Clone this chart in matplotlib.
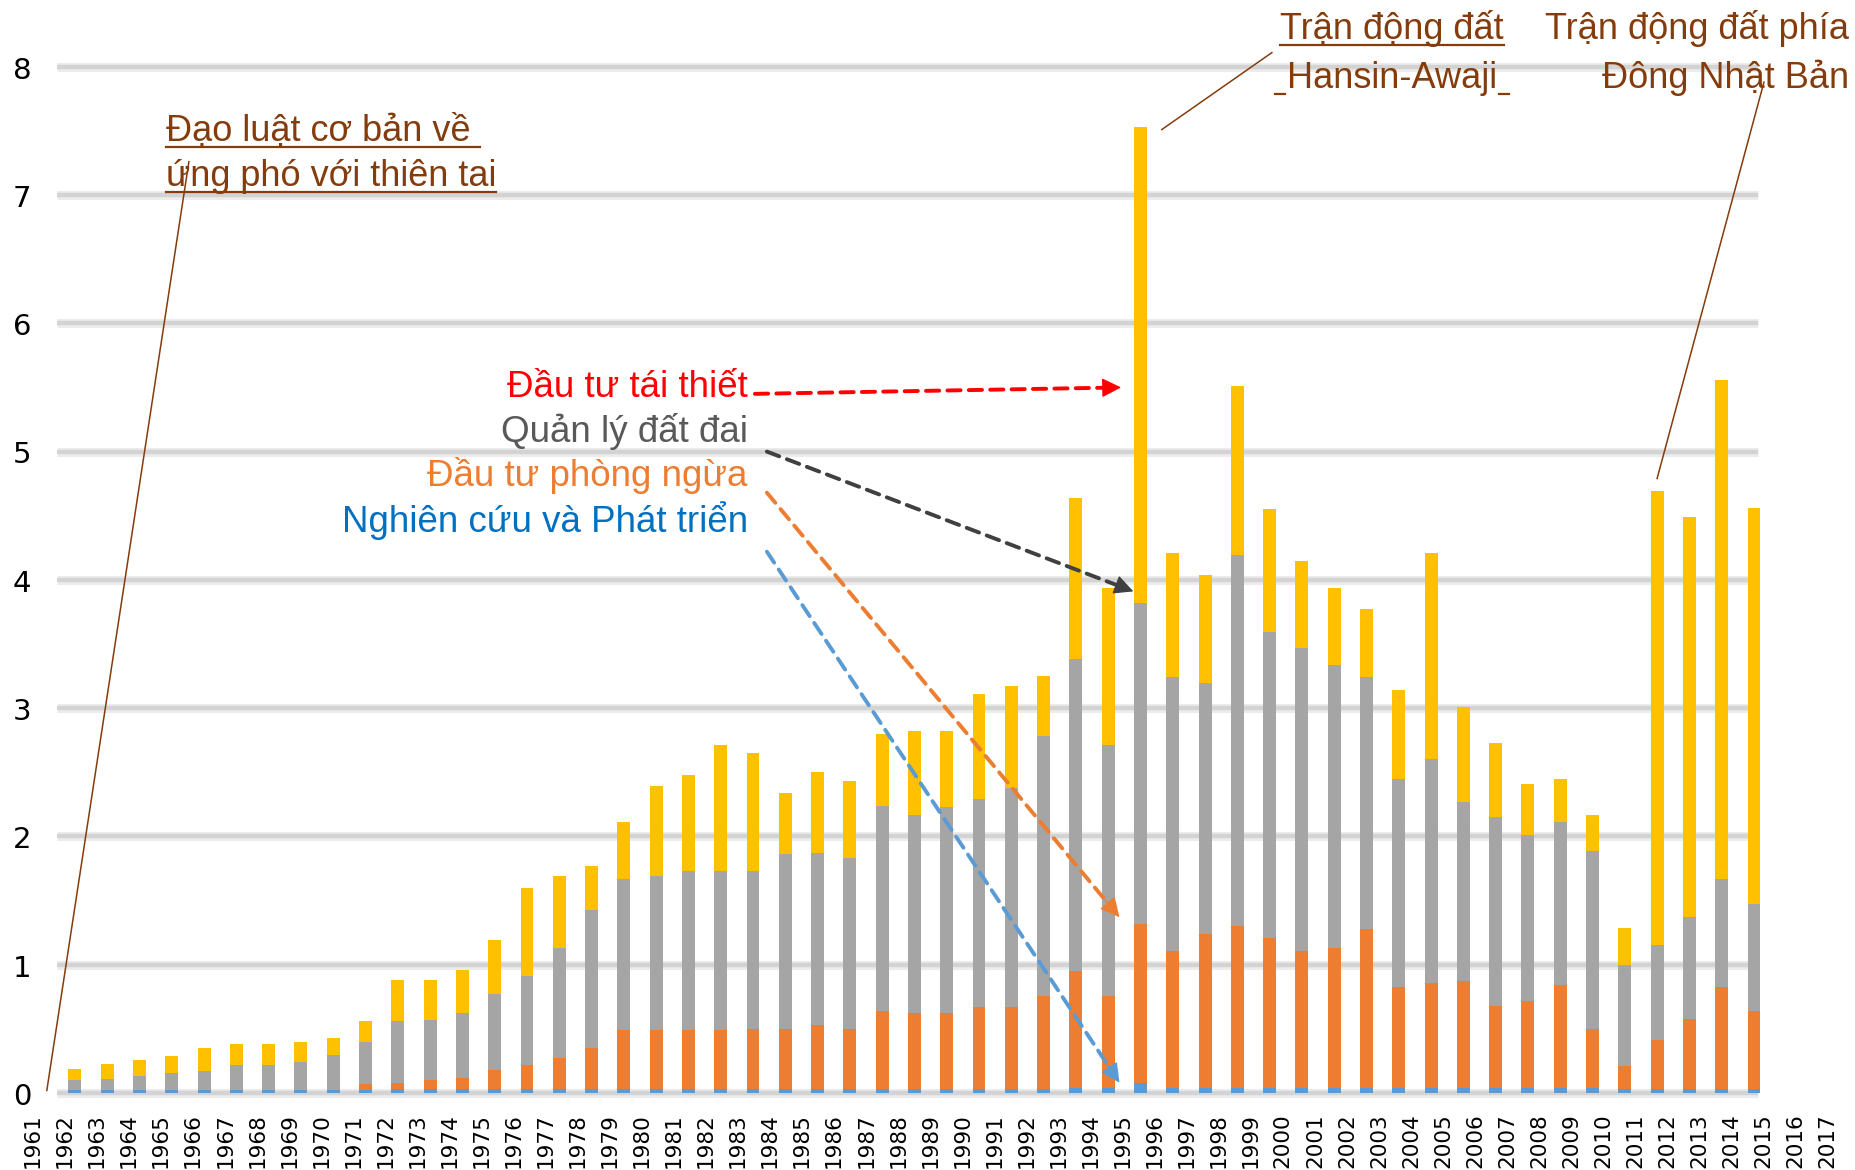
import matplotlib
matplotlib.use("Agg")
import matplotlib.pyplot as plt
from matplotlib.lines import Line2D
import numpy as np

# budget by year (trillion yen), stacked from the bottom up
years = list(range(1962, 2015))
rnd = [0.02, 0.02, 0.02, 0.02, 0.02, 0.02, 0.02, 0.02, 0.02, 0.02,
       0.03, 0.03, 0.03, 0.03, 0.03, 0.03, 0.03, 0.03, 0.03, 0.03,
       0.03, 0.03, 0.03, 0.03, 0.03, 0.03, 0.03, 0.03, 0.03, 0.03,
       0.03, 0.04, 0.04, 0.08, 0.04, 0.04, 0.04, 0.04, 0.04, 0.04,
       0.04, 0.04, 0.04, 0.04, 0.04, 0.04, 0.04, 0.04, 0.03, 0.03,
       0.03, 0.03, 0.03]
prevention = [0.00, 0.00, 0.00, 0.00, 0.00, 0.00, 0.00, 0.00, 0.00, 0.05,
              0.05, 0.07, 0.09, 0.15, 0.19, 0.24, 0.32, 0.46, 0.46, 0.46,
              0.46, 0.47, 0.47, 0.50, 0.47, 0.61, 0.59, 0.59, 0.64, 0.64,
              0.73, 0.91, 0.72, 1.24, 1.07, 1.20, 1.26, 1.17, 1.07, 1.09,
              1.24, 0.79, 0.82, 0.83, 0.64, 0.68, 0.80, 0.46, 0.18, 0.38,
              0.55, 0.80, 0.61]
land = [0.08, 0.09, 0.11, 0.14, 0.15, 0.20, 0.20, 0.22, 0.28, 0.33,
        0.48, 0.47, 0.50, 0.59, 0.69, 0.86, 1.08, 1.18, 1.20, 1.24,
        1.24, 1.23, 1.36, 1.34, 1.33, 1.60, 1.55, 1.61, 1.62, 1.71,
        2.02, 2.43, 1.95, 2.50, 2.13, 1.96, 2.89, 2.38, 2.36, 2.21,
        1.96, 1.62, 1.74, 1.40, 1.47, 1.29, 1.27, 1.39, 0.79, 0.74,
        0.79, 0.84, 0.83]
recovery = [0.09, 0.12, 0.13, 0.13, 0.18, 0.16, 0.16, 0.16, 0.13, 0.16,
            0.32, 0.31, 0.34, 0.42, 0.69, 0.56, 0.34, 0.44, 0.70, 0.75,
            0.98, 0.92, 0.48, 0.63, 0.60, 0.56, 0.65, 0.59, 0.82, 0.79,
            0.47, 1.26, 1.23, 3.71, 0.97, 0.84, 1.32, 0.96, 0.68, 0.60,
            0.53, 0.69, 1.61, 0.74, 0.58, 0.40, 0.34, 0.28, 0.29, 3.54,
            3.12, 3.89, 3.09]
label_years = list(range(1961, 2018))
y_ticks = list(range(0, 9))

legend_labels = ["Đầu tư tái thiết", "Quản lý đất đai", "Đầu tư phòng ngừa", "Nghiên cứu và Phát triển"]
legend_colors = ["#ff0000", "#595959", "#ed7d31", "#0070c0"]
arrow_colors = ["#ff0000", "#404040", "#ed7d31", "#5b9bd5"]

BROWN = "#843c0c"
FONT = "Liberation Sans"

fig = plt.figure(figsize=(18.56, 11.7), dpi=100)
ax = fig.add_axes([0, 0, 1, 1])
ax.set_xlim(1959.68, 2017.16)
ax.set_ylim(-0.60, 8.52)
ax.axis("off")

# gridlines
for y in y_ticks:
    ax.plot([1961.44, 2014.12], [y, y], color="#ececec", lw=6.5, zorder=1, solid_capstyle="butt")
    ax.plot([1961.44, 2014.12], [y, y], color="#d3d3d3", lw=3.2, zorder=1, solid_capstyle="butt")
    ax.text(1960.36, y - 0.03, str(y), ha="center", va="center", fontsize=21,
            family="DejaVu Sans", color="black")

# stacked bars
x = np.array(years)
w = 0.40
bottom = np.zeros(len(years))
for vals, col in [(rnd, "#5b9bd5"), (prevention, "#ed7d31"), (land, "#a5a5a5"), (recovery, "#ffc000")]:
    ax.bar(x, vals, width=w, bottom=bottom, color=col, zorder=2, linewidth=0)
    bottom = bottom + np.array(vals)

# year labels (slightly different spacing from bars in the original)
for i, yr in enumerate(label_years):
    px = 33 + i * 32.05
    xd = 1962 + (px - 75) / 32.29
    ax.text(xd, -0.16, str(yr), rotation=90, ha="center", va="top", fontsize=15.5,
            family="DejaVu Sans", color="black")

# category labels + dashed arrows
label_y = [5.427, 5.076, 4.733, 4.374]
for lab, col, yy in zip(legend_labels, legend_colors, label_y):
    ax.text(1982.84, yy, lab, ha="right", va="baseline", fontsize=26.5, family=FONT, color=col)

arrow_start = [(1983.06, 5.45), (1983.43, 5.00), (1983.43, 4.68), (1983.43, 4.22)]
arrow_end = [(1994.40, 5.50), (1994.78, 3.91), (1994.35, 1.37), (1994.35, 0.08)]
for s, e, col in zip(arrow_start, arrow_end, arrow_colors):
    # dashed shaft
    ax.annotate("", xy=e, xytext=s,
                arrowprops=dict(arrowstyle="-", color=col, lw=2.8, linestyle=(0, (3.4, 2.1)),
                                shrinkA=0, shrinkB=6), zorder=5)
    # solid head
    d = np.array(e) - np.array(s)
    ax.annotate("", xy=e, xytext=tuple(np.array(e) - d * 0.04),
                arrowprops=dict(arrowstyle="-|>,head_length=0.4,head_width=0.2", color=col,
                                lw=1, shrinkA=0, shrinkB=0, mutation_scale=30), zorder=5)

# brown event annotations
t_law1 = ax.text(1964.82, 7.423, "Đạo luật cơ bản về ", ha="left", va="baseline", fontsize=26, family=FONT, color=BROWN)
t_law2 = ax.text(1964.82, 7.072, "ứng phó với thiên tai", ha="left", va="baseline", fontsize=26, family=FONT, color=BROWN)
ax.plot([1965.53, 1961.13], [7.26, 0.02], color=BROWN, lw=1.1, zorder=4)

t_h1 = ax.text(2002.79, 8.218, "Trận động đất", ha="center", va="baseline", fontsize=26, family=FONT, color=BROWN)
t_h2 = ax.text(2002.79, 7.837, "Hansin-Awaji", ha="center", va="baseline", fontsize=26, family=FONT, color=BROWN)
ax.plot([1999.07, 1995.66], [8.11, 7.51], color=BROWN, lw=1.1, zorder=4)

ax.text(2016.94, 8.218, "Trận động đất phía", ha="right", va="baseline", fontsize=26, family=FONT, color=BROWN)
ax.text(2016.94, 7.837, "Đông Nhật Bản", ha="right", va="baseline", fontsize=26, family=FONT, color=BROWN)
ax.plot([2014.31, 2011.0], [7.88, 4.79], color=BROWN, lw=1.1, zorder=4)

# underlines
fig.canvas.draw()
r = fig.canvas.get_renderer()
W, H = fig.bbox.width, fig.bbox.height


def underline(t, x0=None, x1=None, drop=6):
    bb = t.get_window_extent(r)
    base = ax.transData.transform(t.get_position())[1] - drop
    a = bb.x0 if x0 is None else x0
    b = bb.x1 if x1 is None else x1
    fig.add_artist(Line2D([a / W, b / W], [base / H, base / H], transform=fig.transFigure,
                          color=BROWN, lw=1.6))
    return bb


underline(t_law1)
underline(t_law2)
underline(t_h1)
bb = t_h2.get_window_extent(r)
underline(t_h2, bb.x0 - 12, bb.x0 - 2)
underline(t_h2, bb.x1 + 2, bb.x1 + 12)

fig.savefig("out.png", dpi=100)
